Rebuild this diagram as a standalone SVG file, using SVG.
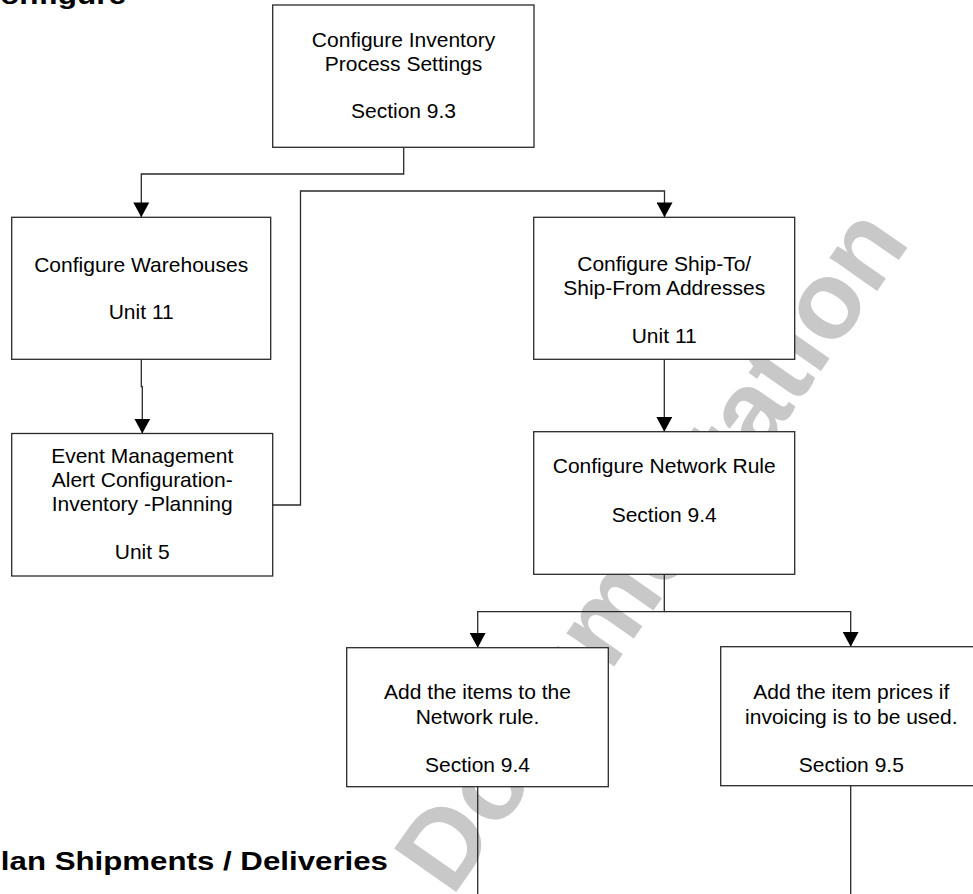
<svg xmlns="http://www.w3.org/2000/svg" width="973" height="894" viewBox="0 0 973 894">
<style>
.box{fill:#ffffff;stroke:#2a2a2a;stroke-width:1.3}
.t{font-family:"Liberation Sans",Arial,Helvetica,sans-serif;font-size:21px;fill:#000;text-anchor:middle}
.h{font-family:"Liberation Sans",Arial,Helvetica,sans-serif;font-size:26px;font-weight:bold;fill:#000}
.wm{font-family:"Liberation Sans",Arial,Helvetica,sans-serif;font-size:110px;font-weight:bold;fill:#c8c8c8}
.c{fill:none;stroke:#2a2a2a;stroke-width:1.3}
</style>
<defs>
<marker id="arr" markerUnits="userSpaceOnUse" markerWidth="16" markerHeight="16" viewBox="0 0 14 14" refX="13" refY="7" orient="auto">
<path d="M0,0 L13,7 L0,14 z" fill="#000"/>
</marker>
</defs>
<rect width="973" height="894" fill="#ffffff"/>
<text class="wm" transform="translate(452,898) rotate(-55)" x="0" y="0">Documentation</text>
<text class="h" x="-22.6" y="4" textLength="148.6" lengthAdjust="spacingAndGlyphs">Configure</text>
<text class="h" x="-20" y="870" textLength="408" lengthAdjust="spacingAndGlyphs">Plan Shipments / Deliveries</text>
<g id="connectors">
<path class="c" d="M403.7,147.3 V174 H141.3 V217.3" marker-end="url(#arr)"/>
<path class="c" d="M141.3,359.3 V386.7 H142.3 V433.5" marker-end="url(#arr)"/>
<path class="c" d="M272.7,505 H300.5 V191 H664.5 V217.3" marker-end="url(#arr)"/>
<path class="c" d="M664.3,359.3 V431.7" marker-end="url(#arr)"/>
<path class="c" d="M664.3,574.3 V611.7 H477.7 V647.7" marker-end="url(#arr)"/>
<path class="c" d="M664.3,611.7 H850.7 V646.7" marker-end="url(#arr)"/>
<path class="c" d="M477.7,786.7 V894"/>
<path class="c" d="M850.7,785.7 V894"/>
</g>
<g id="n-inventory-settings">
<rect class="box" x="272.7" y="5" width="261.3" height="142.3"/>
<text class="t" x="403.5" y="47.3">Configure Inventory</text>
<text class="t" x="403.5" y="71">Process Settings</text>
<text class="t" x="403.5" y="118.3">Section 9.3</text>
</g>
<g id="n-warehouses">
<rect class="box" x="11.7" y="217.3" width="259" height="142"/>
<text class="t" x="141.2" y="271.5">Configure Warehouses</text>
<text class="t" x="141.2" y="319.3">Unit 11</text>
</g>
<g id="n-event-management">
<rect class="box" x="11.7" y="433.5" width="261" height="142.5"/>
<text class="t" x="142.2" y="462.5">Event Management</text>
<text class="t" x="142.2" y="486.5">Alert Configuration-</text>
<text class="t" x="142.2" y="510.5">Inventory -Planning</text>
<text class="t" x="142.2" y="558.5">Unit 5</text>
</g>
<g id="n-ship-addresses">
<rect class="box" x="533.7" y="217.3" width="261" height="142"/>
<text class="t" x="664.2" y="271">Configure Ship-To/</text>
<text class="t" x="664.2" y="295">Ship-From Addresses</text>
<text class="t" x="664.2" y="342.7">Unit 11</text>
</g>
<g id="n-network-rule">
<rect class="box" x="533.7" y="431.7" width="261" height="142.6"/>
<text class="t" x="664.2" y="473.3">Configure Network Rule</text>
<text class="t" x="664.2" y="522.3">Section 9.4</text>
</g>
<g id="n-add-items">
<rect class="box" x="346.7" y="647.7" width="261.6" height="139"/>
<text class="t" x="477.5" y="699.3">Add the items to the</text>
<text class="t" x="477.5" y="724.3">Network rule.</text>
<text class="t" x="477.5" y="771.7">Section 9.4</text>
</g>
<g id="n-add-prices">
<rect class="box" x="720.7" y="646.7" width="261.3" height="139"/>
<text class="t" x="851.3" y="699.3">Add the item prices if</text>
<text class="t" x="851.3" y="724.3">invoicing is to be used.</text>
<text class="t" x="851.3" y="771.7">Section 9.5</text>
</g>
</svg>
